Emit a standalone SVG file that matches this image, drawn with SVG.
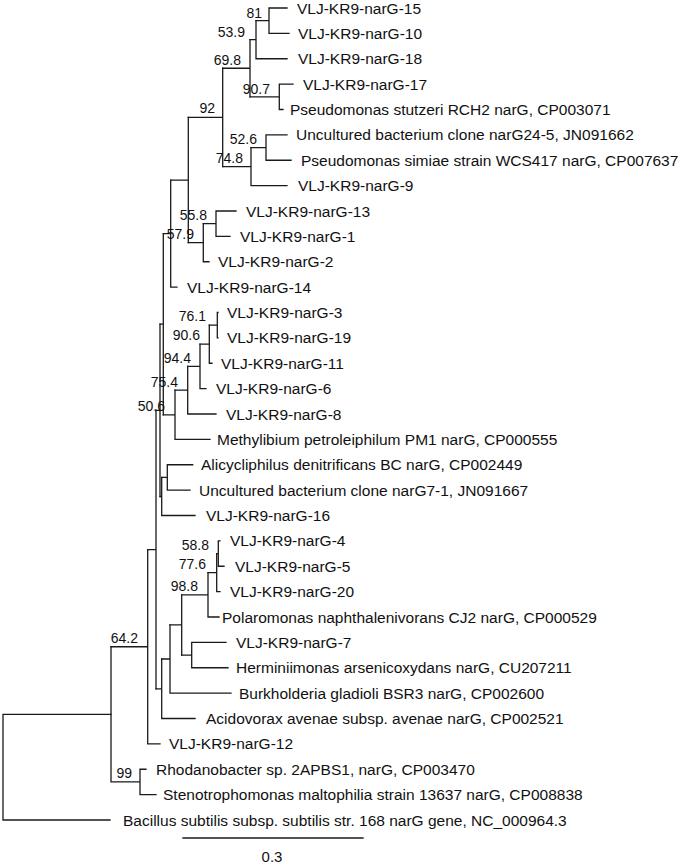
<svg xmlns="http://www.w3.org/2000/svg" width="680" height="864" viewBox="0 0 680 864">
<style>
.b{fill:none;stroke:#1a1a1a;stroke-width:1.3;stroke-linecap:square}
.t{font-family:"Liberation Sans",Arial,sans-serif;font-size:15.5px;fill:#111}
.s{font-family:"Liberation Sans",Arial,sans-serif;font-size:14px;fill:#111;text-anchor:end}
.sc{font-family:"Liberation Sans",Arial,sans-serif;font-size:15px;fill:#111;text-anchor:middle}
</style>
<rect width="680" height="864" fill="#fff"/>
<g id="connectors" class="b">
<path d="M3 714.3V820M3 714.3H111M3 820H110"/>
<path d="M111 646.75V781.9M111 781.9H140M140 769.25V794.6M140 769.25H146M140 794.6H156"/>
<path d="M111 646.75H147.7M147.7 549.6V743.9M147.7 743.9H160"/>
<path d="M147.7 549.6H156M156 410.4V688.8"/>
<path d="M156 688.8H161.7M161.7 659V718.5M161.7 718.5H195"/>
<path d="M161.7 659H170M170 624.9V693.1M170 693.1H231"/>
<path d="M170 624.9H181.7M181.7 594.8V655.1"/>
<path d="M181.7 655.1H191.7M191.7 642.4V667.75M191.7 642.4H226M191.7 667.75H228"/>
<path d="M181.7 594.8H208M208 572.6V617M208 617H219"/>
<path d="M208 572.6H216.7M216.7 553.6V591.6M216.7 591.6H220"/>
<path d="M216.7 553.6H218.3M218.3 540.9V566.25M218.3 540.9H220M218.3 566.25H224"/>
<path d="M156 410.4H160M160 324.2V496.5"/>
<path d="M160 496.5H161.7M161.7 477.4V515.5M161.7 515.5H195"/>
<path d="M161.7 477.4H167.3M167.3 464.75V490.1M167.3 464.75H192.7M167.3 490.1H190"/>
<path d="M160 324.2H163.3M163.3 233.6V414.8"/>
<path d="M163.3 414.8H175M175 390.2V439.4M175 439.4H210"/>
<path d="M175 390.2H187.7M187.7 366.4V414M187.7 414H216"/>
<path d="M187.7 366.4H200M200 344.2V388.6M200 388.6H206"/>
<path d="M200 344.2H209.3M209.3 325.2V363.25M209.3 363.25H212"/>
<path d="M209.3 325.2H217.3M217.3 312.5V337.9M217.3 312.5H218M217.3 337.9H218"/>
<path d="M163.3 233.6H170.7M170.7 180.05V287.1M170.7 287.1H177"/>
<path d="M170.7 180.05H188.3M188.3 117.4V242.7"/>
<path d="M188.3 242.7H203.3M203.3 223.7V261.75M203.3 261.75H209"/>
<path d="M203.3 223.7H216M216 211V236.4M216 211H236M216 236.4H230"/>
<path d="M188.3 117.4H222.7M222.7 68.25V166.6"/>
<path d="M222.7 68.25H250M250 39.7V96.8"/>
<path d="M250 39.7H256M256 20.7V58.75M256 58.75H287"/>
<path d="M256 20.7H269M269 8V33.4M269 8H287M269 33.4H289"/>
<path d="M250 96.8H279.3M279.3 84.1V109.5M279.3 84.1H293M279.3 109.5H283"/>
<path d="M222.7 166.6H251M251 147.6V185.6M251 185.6H287"/>
<path d="M251 147.6H266M266 134.9V160.25M266 134.9H287M266 160.25H291"/>
</g>
<g id="leaves">
<g id="leaf-narG-15"><text class="t" x="297" y="13.5">VLJ-KR9-narG-15</text></g>
<g id="leaf-narG-10"><text class="t" x="298" y="38.9">VLJ-KR9-narG-10</text></g>
<g id="leaf-narG-18"><text class="t" x="298" y="64.25">VLJ-KR9-narG-18</text></g>
<g id="leaf-narG-17"><text class="t" x="303" y="89.6">VLJ-KR9-narG-17</text></g>
<g id="leaf-stutzeri"><text class="t" x="290" y="115">Pseudomonas stutzeri RCH2 narG, CP003071</text></g>
<g id="leaf-unc24-5"><text class="t" x="296" y="140.4">Uncultured bacterium clone narG24-5, JN091662</text></g>
<g id="leaf-simiae"><text class="t" x="301" y="165.75">Pseudomonas simiae strain WCS417 narG, CP007637</text></g>
<g id="leaf-narG-9"><text class="t" x="298" y="191.1">VLJ-KR9-narG-9</text></g>
<g id="leaf-narG-13"><text class="t" x="246" y="216.5">VLJ-KR9-narG-13</text></g>
<g id="leaf-narG-1"><text class="t" x="240" y="241.9">VLJ-KR9-narG-1</text></g>
<g id="leaf-narG-2"><text class="t" x="218" y="267.25">VLJ-KR9-narG-2</text></g>
<g id="leaf-narG-14"><text class="t" x="187" y="292.6">VLJ-KR9-narG-14</text></g>
<g id="leaf-narG-3"><text class="t" x="227" y="318">VLJ-KR9-narG-3</text></g>
<g id="leaf-narG-19"><text class="t" x="227" y="343.4">VLJ-KR9-narG-19</text></g>
<g id="leaf-narG-11"><text class="t" x="221" y="368.75">VLJ-KR9-narG-11</text></g>
<g id="leaf-narG-6"><text class="t" x="216" y="394.1">VLJ-KR9-narG-6</text></g>
<g id="leaf-narG-8"><text class="t" x="226" y="419.5">VLJ-KR9-narG-8</text></g>
<g id="leaf-methylibium"><text class="t" x="217" y="444.9">Methylibium petroleiphilum PM1 narG, CP000555</text></g>
<g id="leaf-alicycliphilus"><text class="t" x="201" y="470.25">Alicycliphilus denitrificans BC narG, CP002449</text></g>
<g id="leaf-unc7-1"><text class="t" x="199" y="495.6">Uncultured bacterium clone narG7-1, JN091667</text></g>
<g id="leaf-narG-16"><text class="t" x="206" y="521">VLJ-KR9-narG-16</text></g>
<g id="leaf-narG-4"><text class="t" x="230" y="546.4">VLJ-KR9-narG-4</text></g>
<g id="leaf-narG-5"><text class="t" x="235" y="571.75">VLJ-KR9-narG-5</text></g>
<g id="leaf-narG-20"><text class="t" x="230" y="597.1">VLJ-KR9-narG-20</text></g>
<g id="leaf-polaromonas"><text class="t" x="222" y="622.5">Polaromonas naphthalenivorans CJ2 narG, CP000529</text></g>
<g id="leaf-narG-7"><text class="t" x="236" y="647.9">VLJ-KR9-narG-7</text></g>
<g id="leaf-herminiimonas"><text class="t" x="236" y="673.25">Herminiimonas arsenicoxydans narG, CU207211</text></g>
<g id="leaf-burkholderia"><text class="t" x="239" y="698.6">Burkholderia gladioli BSR3 narG, CP002600</text></g>
<g id="leaf-acidovorax"><text class="t" x="206" y="724">Acidovorax avenae subsp. avenae narG, CP002521</text></g>
<g id="leaf-narG-12"><text class="t" x="169" y="749.4">VLJ-KR9-narG-12</text></g>
<g id="leaf-rhodanobacter"><text class="t" x="156" y="774.75">Rhodanobacter sp. 2APBS1, narG, CP003470</text></g>
<g id="leaf-stenotrophomonas"><text class="t" x="163" y="800.1">Stenotrophomonas maltophilia strain 13637 narG, CP008838</text></g>
<g id="leaf-bacillus"><text class="t" x="123" y="825.5">Bacillus subtilis subsp. subtilis str. 168 narG gene, NC_000964.3</text></g>
</g>
<g id="support">
<g id="n81"><text class="s" x="262" y="18">81</text></g>
<g id="n53-9"><text class="s" x="245" y="37">53.9</text></g>
<g id="n69-8"><text class="s" x="241" y="65">69.8</text></g>
<g id="n90-7"><text class="s" x="270" y="94">90.7</text></g>
<g id="n92"><text class="s" x="215" y="113">92</text></g>
<g id="n52-6"><text class="s" x="257" y="144">52.6</text></g>
<g id="n74-8"><text class="s" x="243" y="163">74.8</text></g>
<g id="n55-8"><text class="s" x="207" y="220">55.8</text></g>
<g id="n57-9"><text class="s" x="194" y="239">57.9</text></g>
<g id="n76-1"><text class="s" x="206" y="321">76.1</text></g>
<g id="n90-6"><text class="s" x="200" y="340">90.6</text></g>
<g id="n94-4"><text class="s" x="191" y="363">94.4</text></g>
<g id="n75-4"><text class="s" x="178" y="387">75.4</text></g>
<g id="n50-6"><text class="s" x="165" y="411">50.6</text></g>
<g id="n58-8"><text class="s" x="209" y="550">58.8</text></g>
<g id="n77-6"><text class="s" x="206" y="569">77.6</text></g>
<g id="n98-8"><text class="s" x="198" y="591">98.8</text></g>
<g id="n64-2"><text class="s" x="138" y="643">64.2</text></g>
<g id="n99"><text class="s" x="132" y="778">99</text></g>
</g>
<g id="scale">
<path class="b" d="M183 838H363"/>
<text class="sc" x="272" y="862">0.3</text>
</g>
</svg>
